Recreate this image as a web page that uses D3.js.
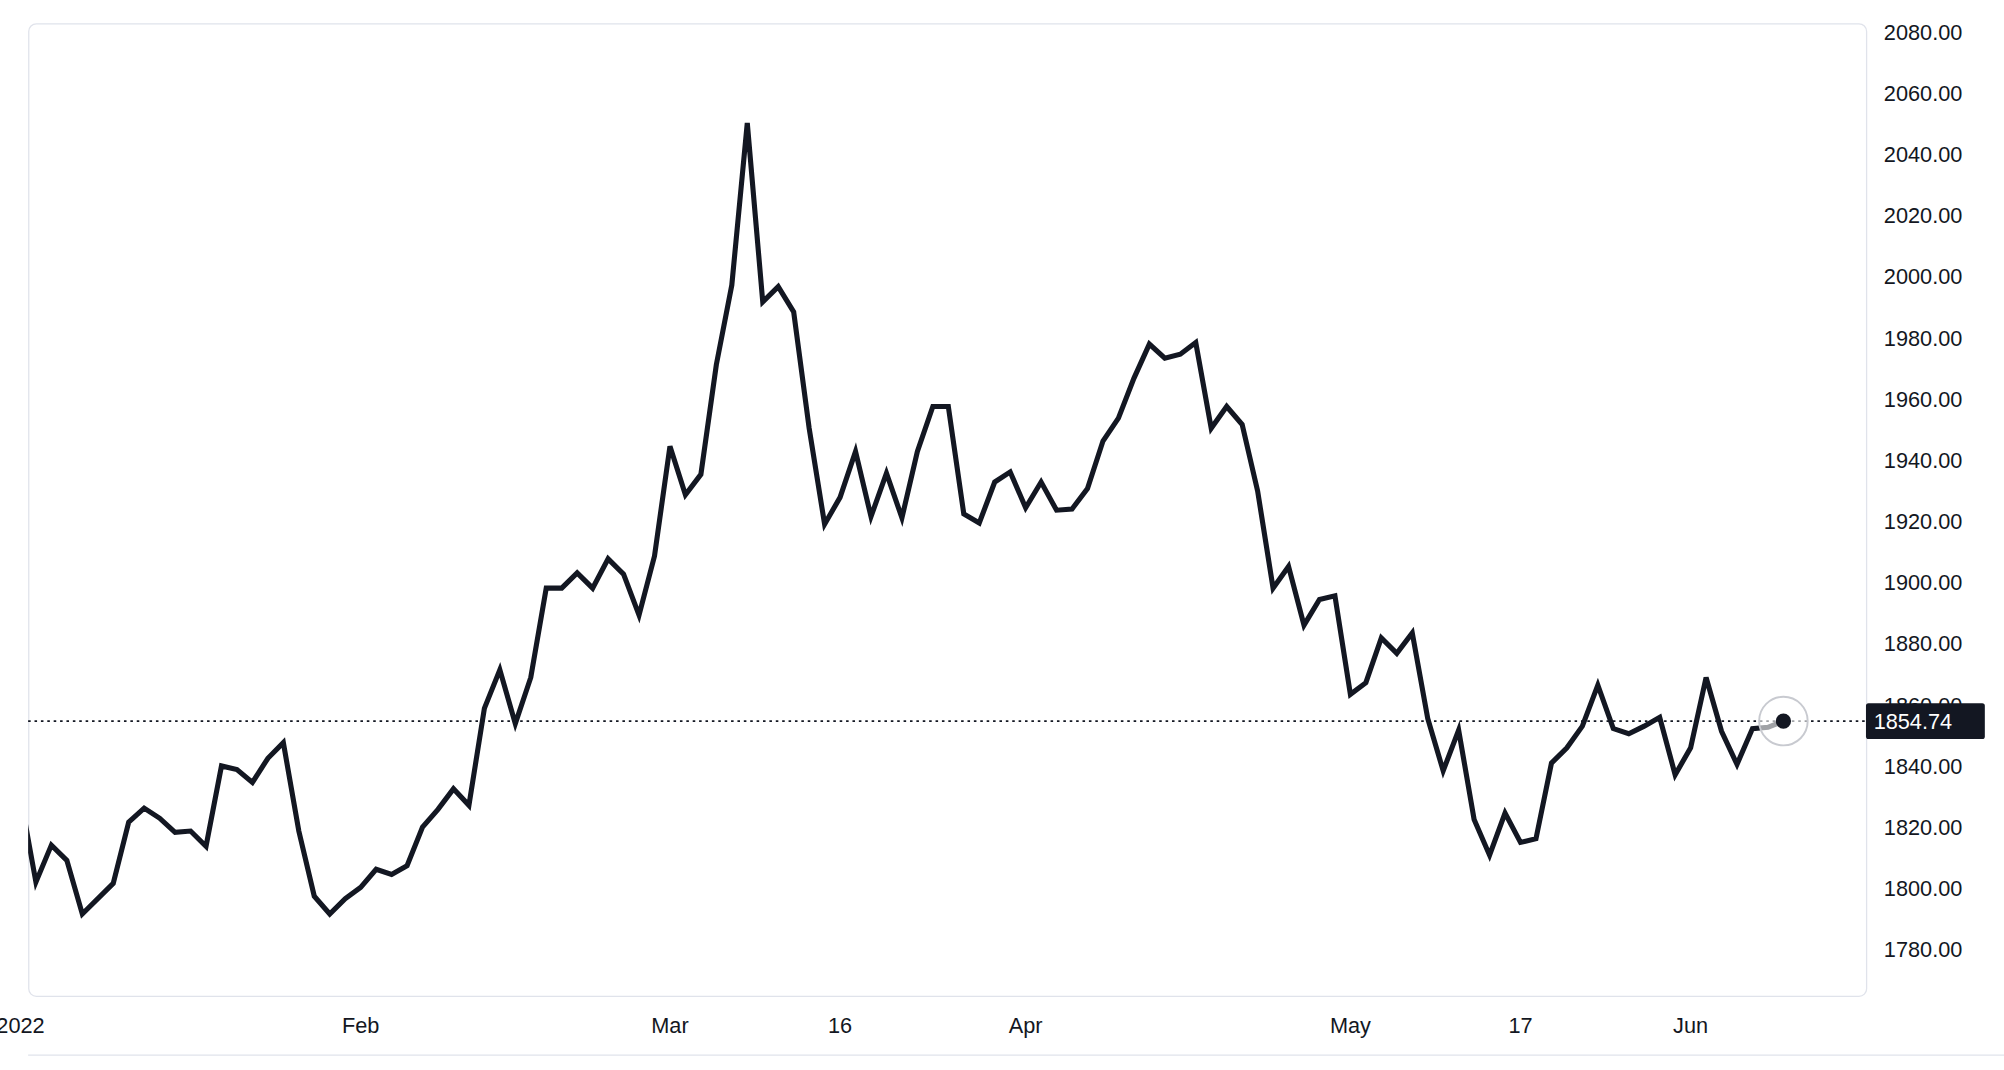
<!DOCTYPE html>
<html>
<head>
<meta charset="utf-8">
<script src="https://cdn.jsdelivr.net/npm/d3@7"></script>
<style>
  body { margin: 0; background: #fff; }
  svg { display: block; }
</style>
</head>
<body>
<svg id="chart" width="2004" height="1070" viewBox="0 0 1568 837"></svg>
<script>
// trading-day index -> close price (null = market holiday, line bridges it)
const prices = [
  1830, 1802.1, 1814.2, 1809.2, 1791.7, null, 1801.7, 1821.7, 1826.3, 1823,
  1818.4, 1818.8, 1813.8, 1840.1, 1838.9, 1834.7, 1842.6, 1847.7, 1818.8, 1797.5,
  1791.7, 1796.7, 1800.4, 1806.3, 1804.6, 1807.5, 1820.1, 1825.9, 1832.6, 1827.2,
  1858.9, 1871.5, 1853.9, 1869, 1898.2, 1898.2, 1903.2, 1898.2, 1907.8, 1902.8,
  1889.4, 1908.7, 1944.6, 1928.7, 1935.4, 1971.3, 1997.3, 2050.3, 1991.8, 1996.8,
  1988.5, 1950.5, 1919.1, 1927.9, 1942.9, 1921.6, 1935.8, 1921.2, 1942.9, 1957.6,
  1957.6, 1922.5, 1919.5, 1932.9, 1936.2, 1924.5, 1932.9, 1923.7, 1924.1, 1930.8,
  1946.3, 1953.8, 1966.8, 1978, 1973.4, 1974.7, 1978.5, 1950.5, 1957.6, 1951.7,
  1930, 1898.2, 1905.3, 1886.1, 1894.5, 1895.7, 1863.5, 1867.3, 1881.9, 1876.9,
  1883.6, 1855.6, 1838.5, 1851.8, 1822.6, 1810.9, 1824.7, 1815.1, 1816.3, 1841,
  1846, 1853.1, 1866.5, 1852.3, 1850.6, 1853.1, 1856, 1837.2, 1846, 1869,
  1851.4, 1840.6, 1852.3, 1852.7, 1854.74
];
const xTickIdx = [0, 22, 42, 53, 65, 86, 97, 108];
const xTickLabels = ["2022", "Feb", "Mar", "16", "Apr", "May", "17", "Jun"];
const yTicks = [1780, 1800, 1820, 1840, 1860, 1880, 1900, 1920, 1940, 1960, 1980, 2000, 2020, 2040, 2060, 2080];
const lastPrice = 1854.74;

const plotL = 22, plotR = 1460, plotT = 18, plotB = 779;
const ink = "#131722";
const font = "'Liberation Sans', Arial, sans-serif";

const svg = d3.select("#chart");
const x = d3.scaleLinear().domain([0, 1]).range([16, 28.1]);
const y = d3.scaleLinear().domain([1780, 2080]).range([743, 25]);

const data = prices.map((v, i) => ({ i, v })).filter(d => d.v != null);

svg.append("defs").append("clipPath").attr("id", "plot")
  .append("rect").attr("x", plotL).attr("y", plotT).attr("width", plotR - plotL).attr("height", plotB - plotT);

// panel frame
svg.append("rect").attr("x", plotL + 0.5).attr("y", plotT + 0.5)
  .attr("width", plotR - plotL).attr("height", plotB - plotT)
  .attr("rx", 6).attr("fill", "none").attr("stroke", "#e0e3eb");
svg.append("line").attr("x1", plotL).attr("x2", 1568).attr("y1", 825.5).attr("y2", 825.5)
  .attr("stroke", "#e0e3eb");

// y axis labels
svg.append("g").selectAll("text").data(yTicks).enter().append("text")
  .attr("x", 1474).attr("y", d => y(d)).attr("dy", "0.35em")
  .attr("font-family", font).attr("font-size", 17).attr("fill", ink)
  .text(d => d.toFixed(2));

// x axis labels
svg.append("g").selectAll("text").data(xTickIdx).enter().append("text")
  .attr("x", d => x(d)).attr("y", 802).attr("dy", "0.35em")
  .attr("text-anchor", "middle")
  .attr("font-family", font).attr("font-size", 17).attr("fill", ink)
  .text((d, i) => xTickLabels[i]);

// last price dotted line
svg.append("line").attr("x1", plotL).attr("x2", plotR)
  .attr("y1", y(lastPrice)).attr("y2", y(lastPrice))
  .attr("stroke", ink).attr("stroke-width", 1.5).attr("stroke-dasharray", "2,3");

// price line
svg.append("path").datum(data)
  .attr("clip-path", "url(#plot)")
  .attr("d", d3.line().x(d => x(d.i)).y(d => y(d.v)))
  .attr("fill", "none").attr("stroke", ink).attr("stroke-width", 4)
  .attr("stroke-linejoin", "miter").attr("stroke-linecap", "butt");

// end marker
const last = data[data.length - 1];
svg.append("circle").attr("cx", x(last.i)).attr("cy", y(last.v)).attr("r", 19)
  .attr("fill", "rgba(255,255,255,0.6)").attr("stroke", "#c8cad0").attr("stroke-width", 1.5);
svg.append("circle").attr("cx", x(last.i)).attr("cy", y(last.v)).attr("r", 6).attr("fill", ink);

// last price label
svg.append("rect").attr("x", plotR).attr("y", y(lastPrice) - 14)
  .attr("width", 93).attr("height", 28).attr("rx", 2).attr("fill", ink);
svg.append("text").attr("x", 1466).attr("y", y(lastPrice)).attr("dy", "0.35em")
  .attr("font-family", font).attr("font-size", 17).attr("fill", "#fff")
  .text(lastPrice.toFixed(2));
</script>
</body>
</html>
